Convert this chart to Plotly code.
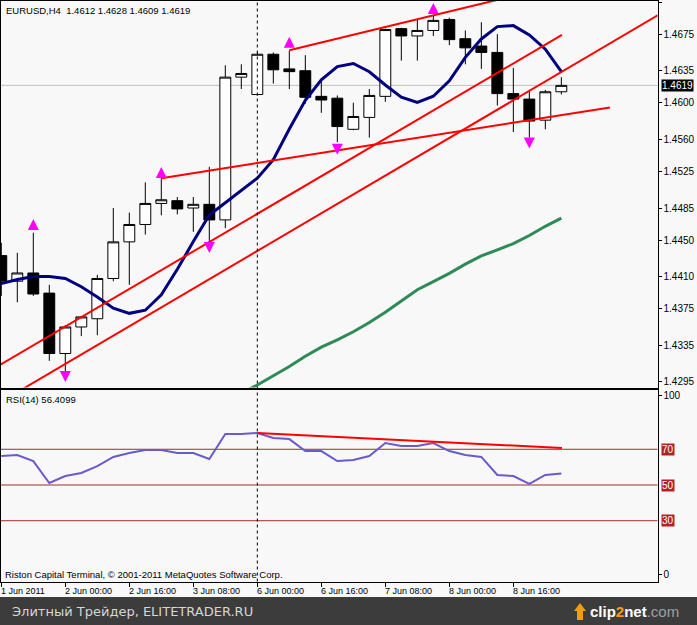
import plotly.graph_objects as go

W, H = 697, 625

# ---------------- data ----------------
# bar index relative to the 6 Jun 00:00 H4 bar
bar_index = list(range(-16, 20))
open_ = [1.4433, 1.4405, 1.4414, 1.4392, 1.4326, 1.4355, 1.4364, 1.4408, 1.4448, 1.4467,
         1.4490, 1.4493, 1.4485, 1.4489, 1.4472, 1.4628, 1.4609, 1.4653, 1.4637, 1.4635,
         1.4607, 1.4605, 1.4571, 1.4584, 1.4607, 1.4681, 1.4673, 1.4679, 1.4691, 1.4670,
         1.4662, 1.4655, 1.4610, 1.4604, 1.4581, 1.4612]
high = [1.4447, 1.4436, 1.4458, 1.4401, 1.4357, 1.4367, 1.4412, 1.4485, 1.4480, 1.4513,
        1.4518, 1.4497, 1.4497, 1.4530, 1.4641, 1.4642, 1.4655, 1.4655, 1.4657, 1.4652,
        1.4626, 1.4608, 1.4600, 1.4615, 1.4681, 1.4682, 1.4691, 1.4695, 1.4693, 1.4679,
        1.4688, 1.4675, 1.4638, 1.4612, 1.4614, 1.4628]
low = [1.4389, 1.4382, 1.4389, 1.4318, 1.4306, 1.4345, 1.4346, 1.4405, 1.4401, 1.4456,
       1.4477, 1.4478, 1.4459, 1.4449, 1.4463, 1.4615, 1.4608, 1.4621, 1.4615, 1.4599,
       1.4589, 1.4557, 1.4570, 1.4562, 1.4601, 1.4646, 1.4646, 1.4673, 1.4663, 1.4642,
       1.4637, 1.4597, 1.4568, 1.4562, 1.4571, 1.4609]
close = [1.4405, 1.4414, 1.4391, 1.4326, 1.4355, 1.4366, 1.4408, 1.4448, 1.4467, 1.4490,
         1.4494, 1.4484, 1.4489, 1.4472, 1.4628, 1.4632, 1.4653, 1.4636, 1.4634, 1.4606,
         1.4603, 1.4574, 1.4585, 1.4608, 1.4680, 1.4673, 1.4679, 1.4690, 1.4669, 1.4660,
         1.4655, 1.4610, 1.4604, 1.4580, 1.4612, 1.4619]

ma_fast = [1.44024, 1.44069, 1.44102, 1.44102, 1.44080, 1.43990, 1.43878, 1.43755, 1.43699, 1.43733,
           1.43901, 1.44180, 1.44483, 1.44773, 1.44908, 1.45042, 1.45176, 1.45377, 1.45713, 1.46026,
           1.46250, 1.46395, 1.46429, 1.46339, 1.46194, 1.46060, 1.46004, 1.46071, 1.46239, 1.46496,
           1.46697, 1.46832, 1.46843, 1.46742, 1.46585, 1.46339]

ma_slow_index = list(range(-1, 20))
ma_slow = [1.42827, 1.42916, 1.43017, 1.43118, 1.43230, 1.43330, 1.43409, 1.43498, 1.43599, 1.43711,
           1.43834, 1.43957, 1.44046, 1.44136, 1.44236, 1.44326, 1.44393, 1.44460, 1.44550, 1.44650,
           1.44740]

rsi = [66.2, 66.8, 63.4, 51.1, 55.0, 56.7, 60.6, 65.7, 67.9, 69.6,
       69.6, 67.9, 67.9, 64.6, 78.6, 78.6, 79.1, 76.3, 75.7, 69.0,
       69.0, 63.4, 64.0, 66.2, 73.5, 71.8, 71.8, 73.5, 69.0, 66.8,
       65.7, 55.6, 55.0, 50.6, 55.6, 56.41]

fractal_up_index = [-14, -6, 2, 11]
fractal_up_price = [1.44729, 1.45299, 1.46720, 1.47089]
fractal_dn_index = [-12, -3, 5, 17]
fractal_dn_price = [1.42950, 1.44359, 1.45433, 1.45500]

# trend lines: (index0, price0, index1, price1)
trend_lines = [
    (-16.2, 1.43123, 19.04, 1.46742),
    (-16.5, 1.42683, 25.5, 1.47005),
    (-6.0, 1.45176, 22.04, 1.45948),
    (2.0, 1.46574, 16.67, 1.47195),
]
rsi_trend = (0.0, 79.1, 19.04, 70.7)

price_ticks = [1.4295, 1.4335, 1.4375, 1.4410, 1.4450, 1.4485, 1.4525, 1.4560, 1.4600,
               1.4635, 1.4675, 1.4710]
time_tick_index = [-16, -12, -8, -4, 0, 4, 8, 12, 16]
time_tick_labels = ["1 Jun 2011", "2 Jun 00:00", "2 Jun 16:00", "3 Jun 08:00", "6 Jun 00:00",
                    "6 Jun 16:00", "7 Jun 08:00", "8 Jun 00:00", "8 Jun 16:00"]
rsi_levels = [30, 50, 70]
last_price = 1.4619
rsi_last = 56.4099

# ---------------- geometry helpers ----------------
def px(x):
    return x / W

def py(y):
    return 1 - y / H

FONT = "Liberation Sans, Arial, sans-serif"
BG = "#f8f8f8"

x_dom = [px(0.5), px(657.5)]
main_dom = [py(387.5), py(0.5)]
rsi_dom = [py(581.5), py(389.5)]
x_range = [-16.05, 25.01]
main_range = [1.428886, 1.471174]
rsi_range = [-4.03, 103.47]

fig = go.Figure()

fig.add_trace(go.Candlestick(
    x=bar_index, open=open_, high=high, low=low, close=close,
    xaxis="x", yaxis="y", whiskerwidth=0,
    increasing=dict(line=dict(color="black", width=1), fillcolor="white"),
    decreasing=dict(line=dict(color="black", width=1), fillcolor="black"),
    showlegend=False, hoverinfo="skip"))

fig.add_trace(go.Scatter(x=bar_index, y=ma_fast, mode="lines", xaxis="x", yaxis="y",
                         line=dict(color="#000080", width=3), showlegend=False, hoverinfo="skip"))
fig.add_trace(go.Scatter(x=ma_slow_index, y=ma_slow, mode="lines", xaxis="x", yaxis="y",
                         line=dict(color="#2e8b57", width=3), showlegend=False, hoverinfo="skip"))

for (i0, p0, i1, p1) in trend_lines:
    fig.add_trace(go.Scatter(x=[i0, i1], y=[p0, p1], mode="lines", xaxis="x", yaxis="y",
                             line=dict(color="#ff0000", width=2), showlegend=False, hoverinfo="skip"))

fig.add_trace(go.Scatter(x=fractal_up_index, y=fractal_up_price, mode="markers", xaxis="x", yaxis="y",
                         marker=dict(symbol="arrow-up", size=11, color="#ff00ff"),
                         showlegend=False, hoverinfo="skip"))
fig.add_trace(go.Scatter(x=fractal_dn_index, y=fractal_dn_price, mode="markers", xaxis="x", yaxis="y",
                         marker=dict(symbol="arrow-down", size=11, color="#ff00ff"),
                         showlegend=False, hoverinfo="skip"))

# RSI panel
fig.add_trace(go.Scatter(x=bar_index, y=rsi, mode="lines", xaxis="x2", yaxis="y2",
                         line=dict(color="#6a5acd", width=2), showlegend=False, hoverinfo="skip"))
fig.add_trace(go.Scatter(x=[rsi_trend[0], rsi_trend[2]], y=[rsi_trend[1], rsi_trend[3]], mode="lines",
                         xaxis="x2", yaxis="y2", line=dict(color="#ff0000", width=2),
                         showlegend=False, hoverinfo="skip"))

axis_common = dict(showgrid=False, zeroline=False, showline=True, mirror=True,
                   linecolor="black", linewidth=1)

shapes = []
shapes.append(dict(type="line", xref="x domain", yref="y", x0=0, x1=1, y0=last_price, y1=last_price,
                   line=dict(color="#c0c0c0", width=1), layer="below"))
for lv in rsi_levels:
    shapes.append(dict(type="line", xref="x2 domain", yref="y2", x0=0, x1=1, y0=lv, y1=lv,
                       line=dict(color="#a52a2a", width=1), layer="below"))
shapes.append(dict(type="line", xref="x", yref="paper", x0=0, x1=0, y0=rsi_dom[0], y1=main_dom[1],
                   line=dict(color="black", width=1, dash="3px,3px")))
# banner
shapes.append(dict(type="rect", xref="paper", yref="paper", x0=0, x1=1, y0=0, y1=py(597),
                   fillcolor="#3c3c3c", line=dict(width=0)))
# clip2net arrow icon
shapes.append(dict(type="path", xref="paper", yref="paper",
                   path=f"M {px(577)} {py(620)} L {px(577)} {py(611)} L {px(574)} {py(611)} "
                        f"L {px(580)} {py(603)} L {px(586)} {py(611)} L {px(583)} {py(611)} "
                        f"L {px(583)} {py(620)} Z",
                   fillcolor="#f39c12", line=dict(width=0)))

ann = []
ann.append(dict(text="EURUSD,H4\u00a0 1.4612 1.4628 1.4609 1.4619", xref="paper", yref="paper",
                x=px(4), y=py(10), xanchor="left", yanchor="middle", showarrow=False,
                font=dict(family=FONT, size=9.5, color="black")))
ann.append(dict(text=f"RSI(14) {rsi_last:.4f}", xref="paper", yref="paper",
                x=px(4), y=py(399), xanchor="left", yanchor="middle", showarrow=False,
                font=dict(family=FONT, size=9.5, color="black")))
ann.append(dict(text="Riston Capital Terminal, © 2001-2011 MetaQuotes Software Corp.", xref="paper",
                yref="paper", x=px(3), y=py(574), xanchor="left", yanchor="middle", showarrow=False,
                font=dict(family=FONT, size=9.5, color="black")))
for idx, lab in zip(time_tick_index, time_tick_labels):
    ann.append(dict(text=lab, xref="x2", yref="paper", x=idx, y=py(591), xanchor="left",
                    yanchor="middle", showarrow=False, xshift=-2,
                    font=dict(family=FONT, size=9, color="black")))
for lv in rsi_levels:
    ann.append(dict(text=str(lv), xref="paper", yref="y2", x=px(661), y=lv, xanchor="left",
                    yanchor="middle", showarrow=False, bgcolor="#b22222", borderpad=0,
                    font=dict(family=FONT, size=10, color="white")))
ann.append(dict(text=f"{last_price:.4f}", xref="paper", yref="y", x=px(661), y=last_price,
                xanchor="left", yanchor="middle", showarrow=False, bgcolor="black", borderpad=0,
                font=dict(family=FONT, size=10, color="white")))
ann.append(dict(text="Элитный Трейдер, ELITETRADER.RU", xref="paper", yref="paper",
                x=px(10), y=py(611), xanchor="left", yanchor="middle", showarrow=False,
                font=dict(family="DejaVu Sans", size=13, color="#d6d6d6")))
ann.append(dict(text="<b>clip<span style='color:#f39c12'>2</span>net</b><span style='color:#a0a0a0'>.com</span>",
                xref="paper", yref="paper", x=px(588), y=py(611), xanchor="left", yanchor="middle",
                showarrow=False, font=dict(family="Liberation Sans", size=15, color="white")))

fig.update_layout(
    width=W, height=H, margin=dict(l=0, r=0, t=0, b=0),
    paper_bgcolor=BG, plot_bgcolor=BG, showlegend=False, boxgap=0.2, boxgroupgap=0.15,
    xaxis=dict(domain=x_dom, range=x_range, anchor="y", showticklabels=False, ticks="",
               rangeslider=dict(visible=False), **axis_common),
    yaxis=dict(domain=main_dom, range=main_range, anchor="x", side="right",
               tickvals=price_ticks, ticktext=[f"{v:.4f}" for v in price_ticks],
               ticks="outside", ticklen=3, tickcolor="black",
               tickfont=dict(family=FONT, size=10, color="black"), **axis_common),
    xaxis2=dict(domain=x_dom, range=x_range, anchor="y2", showticklabels=False,
                tickvals=time_tick_index, ticks="outside", ticklen=4, tickcolor="black", **axis_common),
    yaxis2=dict(domain=rsi_dom, range=rsi_range, anchor="x2", side="right",
                tickvals=[0, 100], ticktext=["0", "100"], ticks="outside", ticklen=3, tickcolor="black",
                tickfont=dict(family=FONT, size=10, color="black"), **axis_common),
    shapes=shapes, annotations=ann,
)

fig.write_html("out.html", config={"displayModeBar": False},
               post_script="document.body.style.margin='0';document.body.style.padding='0';"
                           "document.body.style.overflow='hidden';")
